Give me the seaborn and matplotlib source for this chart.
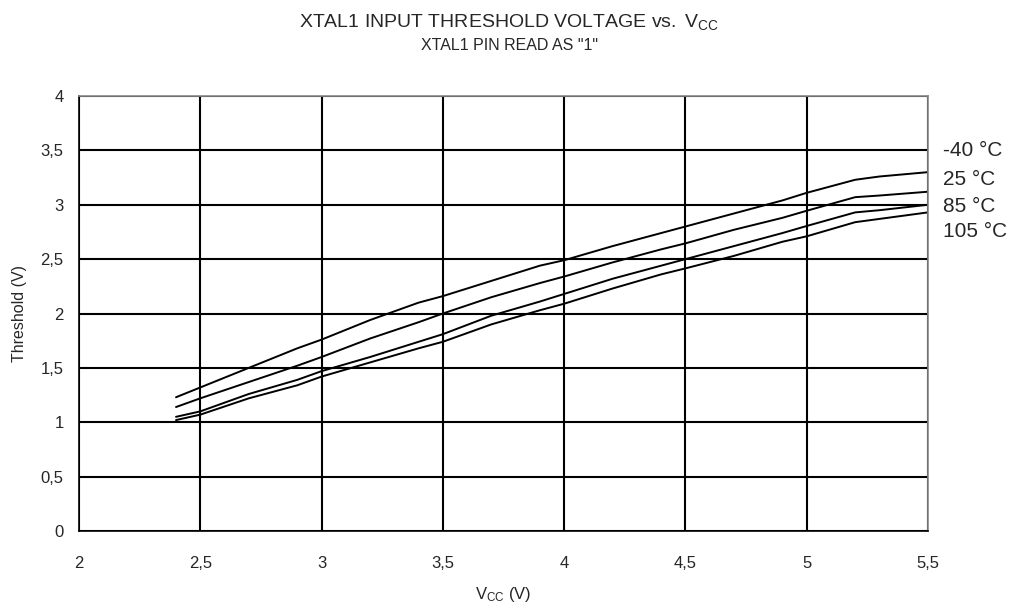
import pandas as pd
import seaborn as sns
import matplotlib.pyplot as plt

# supply voltage (V)
vcc = [2.4, 2.5, 2.7, 2.9, 3.0, 3.2, 3.4, 3.5, 3.7, 3.9, 4.0,
       4.2, 4.4, 4.5, 4.7, 4.9, 5.0, 5.2, 5.3, 5.5]

# threshold (V) per temperature
t_m40 = [1.23, 1.32, 1.50, 1.68, 1.76, 1.94, 2.10, 2.16, 2.30, 2.44, 2.49,
         2.62, 2.74, 2.80, 2.92, 3.04, 3.11, 3.23, 3.26, 3.30]
t_25 = [1.14, 1.22, 1.37, 1.52, 1.60, 1.77, 1.92, 2.00, 2.15, 2.28, 2.34,
        2.47, 2.59, 2.645, 2.77, 2.88, 2.945, 3.07, 3.085, 3.12]
t_85 = [1.05, 1.10, 1.26, 1.39, 1.47, 1.60, 1.74, 1.81, 1.98, 2.11, 2.18,
        2.32, 2.44, 2.50, 2.62, 2.74, 2.805, 2.93, 2.95, 3.00]
t_105 = [1.02, 1.07, 1.22, 1.34, 1.42, 1.55, 1.68, 1.74, 1.90, 2.03, 2.09,
         2.23, 2.36, 2.415, 2.53, 2.66, 2.71, 2.84, 2.87, 2.93]

series_names = ["-40 °C", "25 °C", "85 °C", "105 °C"]
label_y = [3.5, 3.23, 2.98, 2.75]

x_ticks = [2, 2.5, 3, 3.5, 4, 4.5, 5, 5.5]
x_tick_labels = ["2", "2,5", "3", "3,5", "4", "4,5", "5", "5,5"]
y_ticks = [0, 0.5, 1, 1.5, 2, 2.5, 3, 3.5, 4]
y_tick_labels = ["0", "0,5", "1", "1,5", "2", "2,5", "3", "3,5", "4"]


def main():
    frames = []
    for name, vals in zip(series_names, [t_m40, t_25, t_85, t_105]):
        frames.append(pd.DataFrame({"Vcc": vcc, "Threshold": vals, "Temp": name}))
    df = pd.concat(frames, ignore_index=True)

    sns.set_style("white")
    plt.rcParams["font.family"] = ["Liberation Sans", "DejaVu Sans"]
    plt.rcParams["mathtext.fontset"] = "custom"
    plt.rcParams["mathtext.rm"] = "Liberation Sans"
    plt.rcParams["mathtext.it"] = "Liberation Sans"

    fig = plt.figure(figsize=(10.19, 6.07), dpi=100)
    ax = fig.add_axes([0.0775, 0.1252, 0.8332, 0.7166])

    sns.lineplot(data=df, x="Vcc", y="Threshold", hue="Temp",
                 palette=["black"] * 4, linewidth=1.4, legend=False, ax=ax)

    ax.set_xlim(2, 5.5)
    ax.set_ylim(0, 4)
    ax.set_xticks(x_ticks)
    ax.set_xticklabels(x_tick_labels, fontsize=12)
    ax.set_yticks(y_ticks)
    ax.set_yticklabels(y_tick_labels, fontsize=12)
    ax.grid(True, color="black", linewidth=1.5)
    ax.set_axisbelow(True)
    ax.tick_params(axis="both", direction="out", length=5, width=1,
                   color="black")
    ax.tick_params(axis="x", pad=13)
    ax.tick_params(axis="y", pad=6)

    for side in ["left", "bottom"]:
        ax.spines[side].set_color("black")
        ax.spines[side].set_linewidth(1.2)
    for side in ["top", "right"]:
        ax.spines[side].set_color("#888888")
        ax.spines[side].set_linewidth(1.2)

    ax.set_xlabel(r"V$_{\mathrm{CC}}$ (V)", fontsize=12, labelpad=10)
    ax.set_ylabel("Threshold (V)", fontsize=11.5, labelpad=10)

    for name, yv in zip(series_names, label_y):
        ax.text(5.56, yv, name, fontsize=15, va="center", ha="left",
                clip_on=False)

    fig.text(0.5, 0.963,
             r"XTAL1 INPUT THRESHOLD VOLTAGE $\mathrm{vs.}$ V$_{\mathrm{CC}}$",
             ha="center", va="center", fontsize=14)
    fig.text(0.5, 0.925, 'XTAL1 PIN READ AS "1"', ha="center", va="center",
             fontsize=11.5)

    fig.savefig("out.png", dpi=100)


if __name__ == '__main__':
    main()
